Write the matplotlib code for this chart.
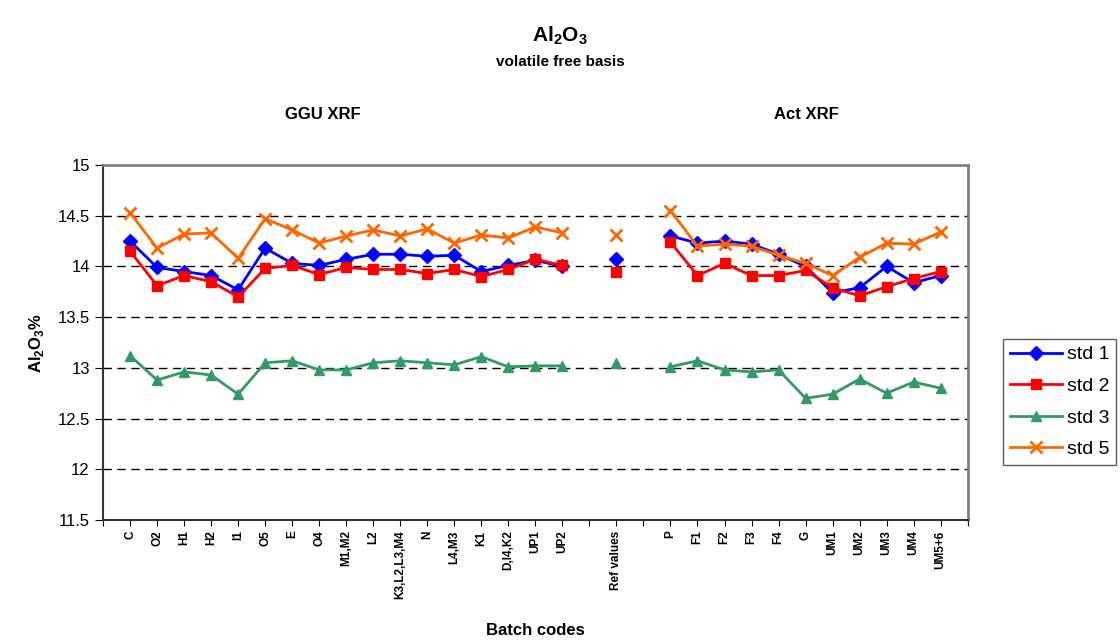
import matplotlib
matplotlib.use('Agg')
import matplotlib.pyplot as plt
import numpy as np

plt.rcParams['font.family'] = ['Liberation Sans', 'DejaVu Sans']
plt.rcParams['mathtext.fontset'] = 'custom'
plt.rcParams['mathtext.rm'] = 'Liberation Sans'
plt.rcParams['mathtext.bf'] = 'Liberation Sans:bold'

# categories (blank entries are the gaps in the excel sheet)
categories = ['C', 'O2', 'H1', 'H2', 'I1', 'O5', 'E', 'O4', 'M1,M2', 'L2',
              'K3,L2,L3,M4', 'N', 'L4,M3', 'K1', 'D,I4,K2', 'UP1', 'UP2',
              '', 'Ref values', '',
              'P', 'F1', 'F2', 'F3', 'F4', 'G', 'UM1', 'UM2', 'UM3', 'UM4', 'UM5+6']

nan = np.nan
std1 = [14.25, 13.99, 13.95, 13.91, 13.77, 14.18, 14.03, 14.01, 14.07, 14.12,
        14.12, 14.10, 14.11, 13.95, 14.01, 14.06, 14.00,
        nan, 14.07, nan,
        14.30, 14.23, 14.25, 14.22, 14.12, 14.00, 13.74, 13.79, 14.00, 13.84, 13.91]
std2 = [14.15, 13.81, 13.91, 13.85, 13.70, 13.98, 14.01, 13.92, 13.99, 13.97,
        13.97, 13.93, 13.97, 13.90, 13.97, 14.07, 14.01,
        nan, 13.95, nan,
        14.24, 13.91, 14.03, 13.91, 13.91, 13.96, 13.79, 13.71, 13.80, 13.88, 13.95]
std3 = [13.12, 12.88, 12.96, 12.93, 12.74, 13.05, 13.07, 12.98, 12.98, 13.05,
        13.07, 13.05, 13.03, 13.11, 13.01, 13.02, 13.02,
        nan, 13.05, nan,
        13.01, 13.07, 12.98, 12.96, 12.98, 12.70, 12.74, 12.89, 12.75, 12.86, 12.80]
std5 = [14.53, 14.18, 14.32, 14.33, 14.08, 14.47, 14.36, 14.23, 14.30, 14.36,
        14.30, 14.37, 14.23, 14.31, 14.28, 14.39, 14.33,
        nan, 14.31, nan,
        14.55, 14.20, 14.22, 14.20, 14.11, 14.03, 13.91, 14.09, 14.23, 14.22, 14.34]

x = np.arange(len(categories))

fig = plt.figure(figsize=(11.2, 6.42), dpi=100)
ax = fig.add_axes([0.092, 0.190, 0.772, 0.553])

ax.plot(x, std1, color='#0000FF', marker='D', markersize=7, lw=2, label='std 1')
ax.plot(x, std2, color='#FF0000', marker='s', markersize=7, lw=2, label='std 2')
ax.plot(x, std3, color='#339966', marker='^', markersize=7, lw=2, label='std 3')
ax.plot(x, std5, color='#FF6600', marker='x', markersize=8, mew=2, lw=2, label='std 5')

ax.set_xlim(-1, len(categories))
ax.set_ylim(11.5, 15)
ax.set_yticks(np.arange(11.5, 15.01, 0.5))
ax.set_yticklabels(['11.5', '12', '12.5', '13', '13.5', '14', '14.5', '15'], fontsize=12)

ax.set_xticks(np.arange(-1, len(categories) + 1))
ax.set_xticklabels([''] + categories + [''], rotation=90, fontsize=8.5, fontweight='bold')
ax.tick_params(axis='x', length=4, direction='out')
ax.tick_params(axis='y', length=6, direction='out')

for yv in [12, 12.5, 13, 13.5, 14, 14.5]:
    ax.axhline(yv, color='black', lw=1, ls=(0, (6, 4)), zorder=0)

for s in ['top', 'right']:
    ax.spines[s].set_color('#808080')
    ax.spines[s].set_linewidth(2)
for s in ['left', 'bottom']:
    ax.spines[s].set_color('#333333')
    ax.spines[s].set_linewidth(1.5)

ax.set_ylabel(r'Al$_\mathbf{2}$O$_\mathbf{3}$%', fontsize=12, fontweight='bold', labelpad=8)
ax.set_xlabel('Batch codes', fontsize=12, fontweight='bold')
ax.xaxis.set_label_coords(0.5, -0.29)

fig.text(0.5, 0.945, r'Al$_\mathbf{2}$O$_\mathbf{3}$', ha='center', va='center',
         fontsize=15, fontweight='bold')
fig.text(0.5, 0.903, 'volatile free basis', ha='center', va='center',
         fontsize=11, fontweight='bold')
fig.text(0.288, 0.821, 'GGU XRF', ha='center', va='center', fontsize=12, fontweight='bold')
fig.text(0.72, 0.821, 'Act XRF', ha='center', va='center', fontsize=12, fontweight='bold')

leg = ax.legend(loc='upper left', bbox_to_anchor=(0.8955, 0.472),
                bbox_transform=fig.transFigure, fontsize=14, frameon=True,
                fancybox=False, handlelength=2.7, borderpad=0.35, labelspacing=0.72,
                handletextpad=0.25, borderaxespad=0)
leg.get_frame().set_edgecolor('#333333')
leg.get_frame().set_linewidth(1)

fig.savefig('out.png', dpi=100)
